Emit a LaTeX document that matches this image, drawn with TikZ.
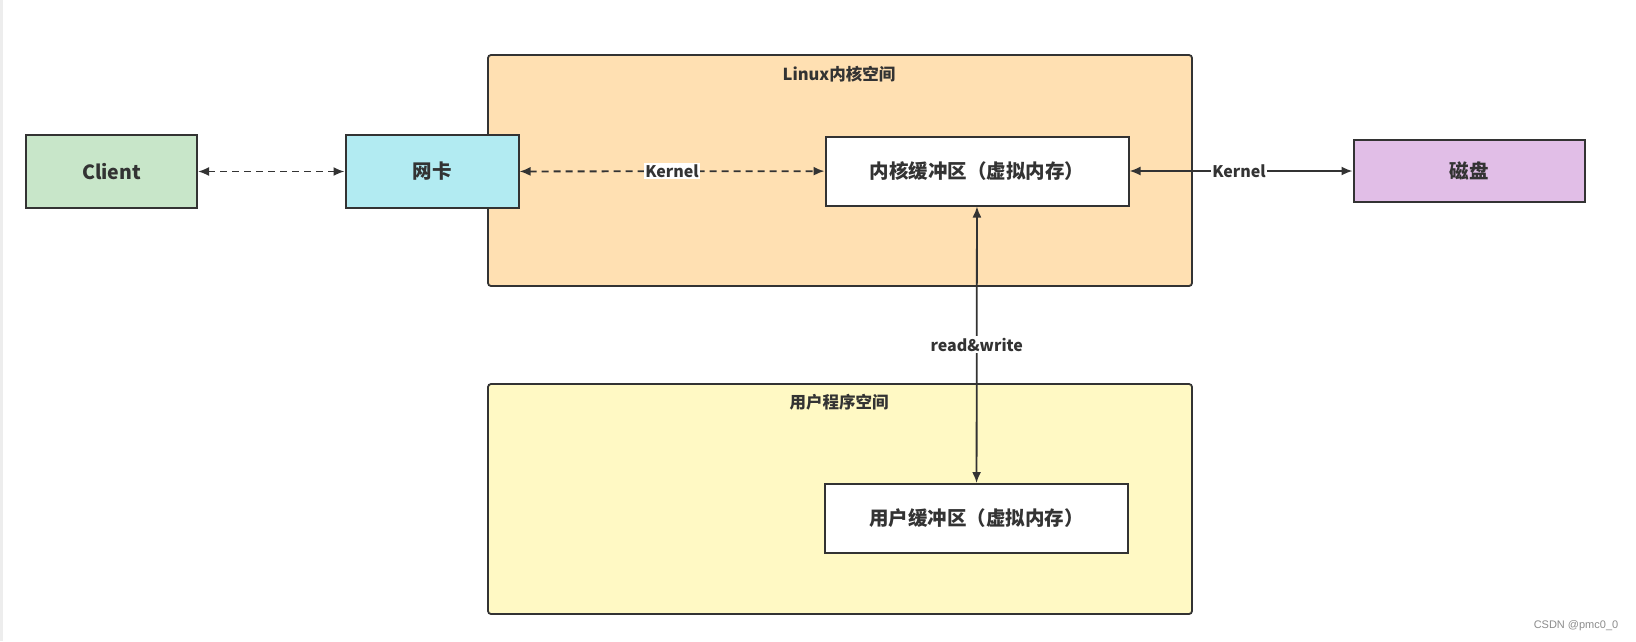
\documentclass[tikz,border=0pt]{standalone}
\usepackage{fontspec}
\setmainfont{Noto Sans CJK SC}
\newfontfamily\markfont{Liberation Sans}
\usetikzlibrary{arrows.meta}
\definecolor{ink}{HTML}{333333}
\definecolor{clientgreen}{HTML}{C8E6C9}
\definecolor{niccyan}{HTML}{B2EBF2}
\definecolor{kernelorange}{HTML}{FFE0B2}
\definecolor{useryellow}{HTML}{FFF9C4}
\definecolor{diskpurple}{HTML}{E1BEE7}
\begin{document}
\begin{tikzpicture}[
      x=1pt, y=-1pt,
      box/.style={draw=ink, line width=2pt, inner sep=0pt, text=ink,
        font=\fontsize{19.5}{23}\selectfont\bfseries},
      space/.style={draw=ink, line width=1.8pt, rounded corners=3pt},
      spacetitle/.style={text=ink, font=\fontsize{16.5}{19}\selectfont\bfseries},
      link/.style={ink, line width=1.8pt, {Latex[length=11pt,width=9pt]}-{Latex[length=11pt,width=9pt]}},
      dashlink/.style={link, dash pattern=on 7pt off 5pt},
      tag/.style={fill=white, inner sep=1.5pt, text=ink, font=\fontsize{16}{18}\selectfont\bfseries}
    ]
    \fill[white] (0,0) rectangle (1636,641);
    \useasboundingbox (0,0) rectangle (1636,641);
    \fill[black!7] (0,0) rectangle (2.5,641);
    % the two address spaces
    \draw[space, fill=kernelorange] (488,55) rectangle (1192,286);
    \node[spacetitle] (ktitle) at (839,74) {Linux内核空间};
    \draw[space, fill=useryellow] (488,384) rectangle (1192,614);
    \node[spacetitle] (utitle) at (839,402) {用户程序空间};
    % boxes
    \node[box, fill=clientgreen, minimum width=171pt, minimum height=73pt] (client) at (111.5,171.5) {Client};
    \node[box, fill=niccyan, minimum width=173pt, minimum height=73pt] (nic) at (432,171.5) {网卡};
    \node[box, fill=white, minimum width=303pt, minimum height=69pt] (kbuf) at (977,171) {内核缓冲区（虚拟内存）};
    \node[box, fill=diskpurple, minimum width=231pt, minimum height=62pt] (disk) at (1469,171) {磁盘};
    \node[box, fill=white, minimum width=303pt, minimum height=69pt] (ubuf) at (976.5,518.5) {用户缓冲区（虚拟内存）};
    % connectors
    \draw[dashlink] (client) -- (nic);
    \draw[dashlink] (nic) -- node[tag] {Kernel} (kbuf);
    \draw[link] (kbuf) -- node[tag, xshift=-2pt] {Kernel} (disk);
    \draw[link] (kbuf) -- node[tag, pos=0.5] {read\&write} (ubuf);
    \node[text=black!45, font=\fontsize{11}{13}\selectfont\markfont] (mark) at (1576,626) {CSDN @pmc0\_0};
\end{tikzpicture}
\end{document}
